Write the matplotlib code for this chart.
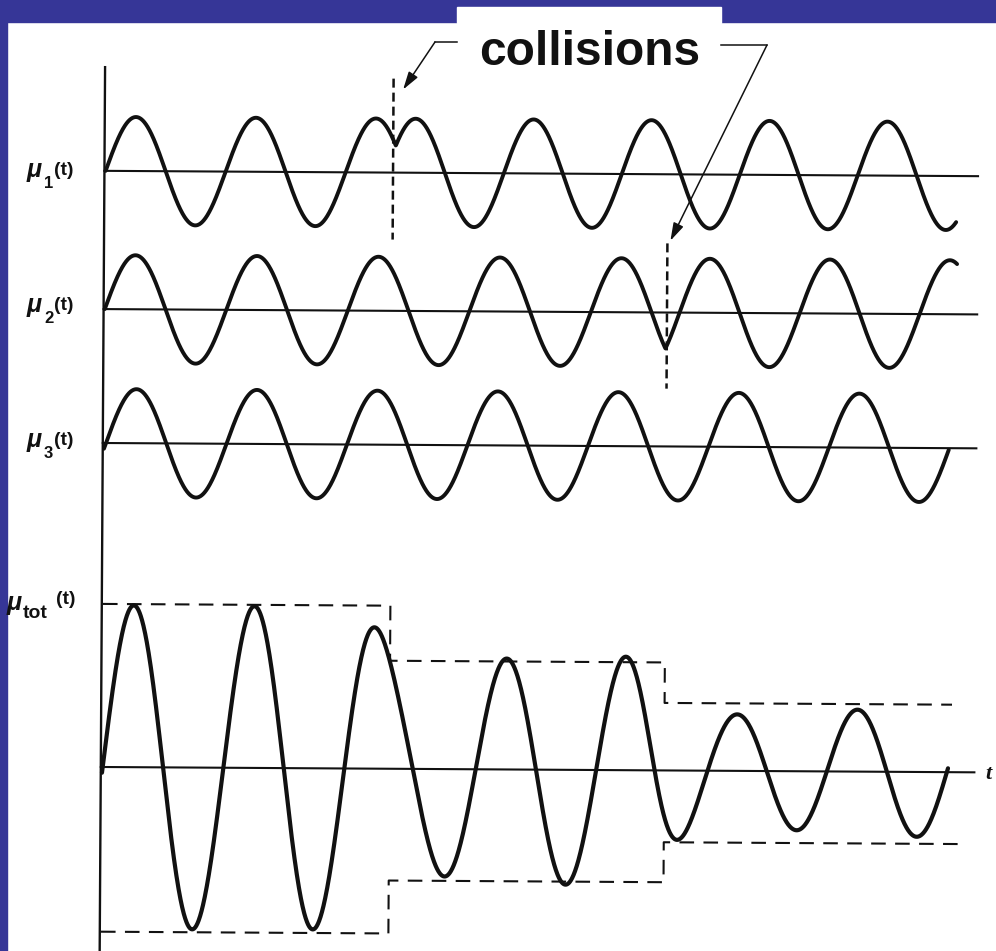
import numpy as np
import matplotlib.pyplot as plt
import matplotlib.transforms as mtransforms
from matplotlib.patches import Rectangle
from matplotlib.lines import Line2D

W, H = 996, 951

# time is in oscillation periods, amplitude in units of one dipole
mu_end = [7.09, 7.10, 7.04]   # end of the three single-dipole traces
t_tot_end = 7.05              # end of the total trace
t_line_end = 7.27             # end of the zero lines

# collision times and which dipole gets hit
collision_t = [2.395, 4.685]
collision_dipole = [0, 1]

# upward zero crossing and period, before / after the collision
mu1_zero = [0.0, 2.335]
mu1_period = [1.0, 0.983]
mu2_zero = [0.0, 4.79]
mu2_period = [1.0125, 1.0]
mu3_zero = [0.017]
mu3_period = [1.004]

# dashed envelope of the total, one level per interval between collisions
env_upper = [3.02, 2.0, 1.25]
env_lower = [-3.05, -2.07, -1.33]
env_upper_end = 7.08
env_lower_end = 7.2

labels = ["1", "2", "3"]

# layout (pixels of the original drawing)
x0_px, y0_px = 102, 767       # t = 0 and the zero line of mu_tot
px_per_t, px_per_amp = 120, 54
row_y = [11.04, 8.48, 6.0, 0.0]
dash_extent = [(1.74, -1.24), (1.28, -1.41)]
blue = "#363697"
ink = "#111111"


def dipole(t, zeros, periods, tc=None, smooth=None):
    pre = np.sin(2 * np.pi * (t - zeros[0]) / periods[0])
    if tc is None:
        return pre
    post = np.sin(2 * np.pi * (t - zeros[1]) / periods[1])
    if smooth:
        w = 0.5 * (1 + np.tanh((t - tc) / smooth))
        return (1 - w) * pre + w * post
    y = np.where(t < tc, pre, post)
    # kink where the old and the new oscillation meet
    near = np.abs(t - tc) < 0.25
    return np.where(near, np.maximum(pre, post), y)


fig = plt.figure(figsize=(W / 100, H / 100), dpi=100)
ax = fig.add_axes([0, 0, 1, 1])
ax.set_xlim(-x0_px / px_per_t, (W - x0_px) / px_per_t)
ax.set_ylim((y0_px - H) / px_per_amp, y0_px / px_per_amp)
ax.axis("off")

# the scanned drawing is turned a little clockwise
tr = ax.transData + mtransforms.Affine2D().rotate_deg_around(103, H - y0_px, -0.35)

params = [(mu1_zero, mu1_period, collision_t[0]),
          (mu2_zero, mu2_period, collision_t[1]),
          (mu3_zero, mu3_period, None)]

for i, (z, p, tc) in enumerate(params):
    t = np.linspace(0, mu_end[i], 3000)
    ax.plot([-0.01, t_line_end], [row_y[i], row_y[i]], color=ink, lw=1.5, transform=tr)
    ax.plot(t, row_y[i] + dipole(t, z, p, tc), color=ink, lw=2.8, transform=tr,
            solid_capstyle="round")

# total = sum of the three dipoles (drawn smooth through the collisions)
t = np.linspace(0, t_tot_end, 3000)
mu_tot = sum(dipole(t, z, p, tc, smooth=0.25) for z, p, tc in params)
ax.plot([-0.01, t_line_end], [0, 0], color=ink, lw=1.5, transform=tr)
ax.plot(t, mu_tot, color=ink, lw=3.0, transform=tr, solid_capstyle="round")

# vertical axis
ax.plot([-0.01, -0.01], [12.96, -3.8], color=ink, lw=1.7, transform=tr)

# collision marks
for tc, d, (up, dn) in zip(collision_t, collision_dipole, dash_extent):
    ax.plot([tc, tc], [row_y[d] + up, row_y[d] + dn], color=ink, lw=1.8,
            dashes=(3.6, 2.0), transform=tr)

# envelope of the total
edges_u = [0.0] + collision_t + [env_upper_end]
edges_l = [0.0] + collision_t + [env_lower_end]
for edges, lev in ((edges_u, env_upper), (edges_l, env_lower)):
    xs, ys = [], []
    for k, v in enumerate(lev):
        xs += [edges[k], edges[k + 1]]
        ys += [v, v]
    ax.plot(xs, ys, color=ink, lw=1.5, dashes=(7, 4.5), transform=tr)

# blue slide frame and the white label box
fig.patches.append(Rectangle((0, 1 - 22 / H), 1, 22 / H, transform=fig.transFigure,
                             color=blue, zorder=1))
fig.patches.append(Rectangle((0, 0), 7 / W, 1, transform=fig.transFigure,
                             color=blue, zorder=1))
fig.patches.append(Rectangle((457 / W, 1 - 23 / H), 264 / W, 16 / H,
                             transform=fig.transFigure, color="white", zorder=2))


def ptext(x, y, s, **kw):
    fig.text(x / W, 1 - y / H, s, va="baseline", ha="left", color=ink, **kw)


sans = "Liberation Sans"
ptext(589 - 110, 65, "collisions", fontsize=34.5, fontweight="bold", family=sans)

for i, lab in enumerate(labels):
    dy = 135 * i
    ptext(27, 177 + dy, "\u03bc", fontsize=18, style="italic", fontweight="bold",
          family=sans)
    ptext(44, 188 + dy, lab, fontsize=12, fontweight="bold", family=sans)
    ptext(54, 175 + dy, "(t)", fontsize=14, fontweight="bold", family=sans)

ptext(7, 610, "\u03bc", fontsize=18, style="italic", fontweight="bold", family=sans)
ptext(23, 618, "tot", fontsize=14, fontweight="bold", family=sans)
ptext(56, 604, "(t)", fontsize=14, fontweight="bold", family=sans)
ptext(985, 779, "t", fontsize=16, fontweight="bold", style="italic",
      family="Liberation Serif")

# leaders from the label to the two collisions
fig.add_artist(Line2D([457 / W, 435 / W], [1 - 42 / H, 1 - 42 / H],
                      transform=fig.transFigure, color=ink, lw=1.1))
fig.add_artist(Line2D([721 / W, 767 / W], [1 - 45 / H, 1 - 45 / H],
                      transform=fig.transFigure, color=ink, lw=1.1))
arrow = dict(arrowstyle="-|>,head_length=0.6,head_width=0.18", color=ink, lw=1.1,
             mutation_scale=18, shrinkA=0, shrinkB=0)
tips = [(collision_t[0] + 0.08, row_y[0] + dash_extent[0][0] - 0.2),
        (collision_t[1] + 0.025, row_y[1] + dash_extent[1][0] + 0.05)]
starts = [(435, H - 42), (767, H - 45)]
for tip, start in zip(tips, starts):
    ax.annotate("", xy=tip, xycoords=tr, xytext=start, textcoords="figure pixels",
                arrowprops=arrow)

fig.savefig("out.png", dpi=100, facecolor="white")
